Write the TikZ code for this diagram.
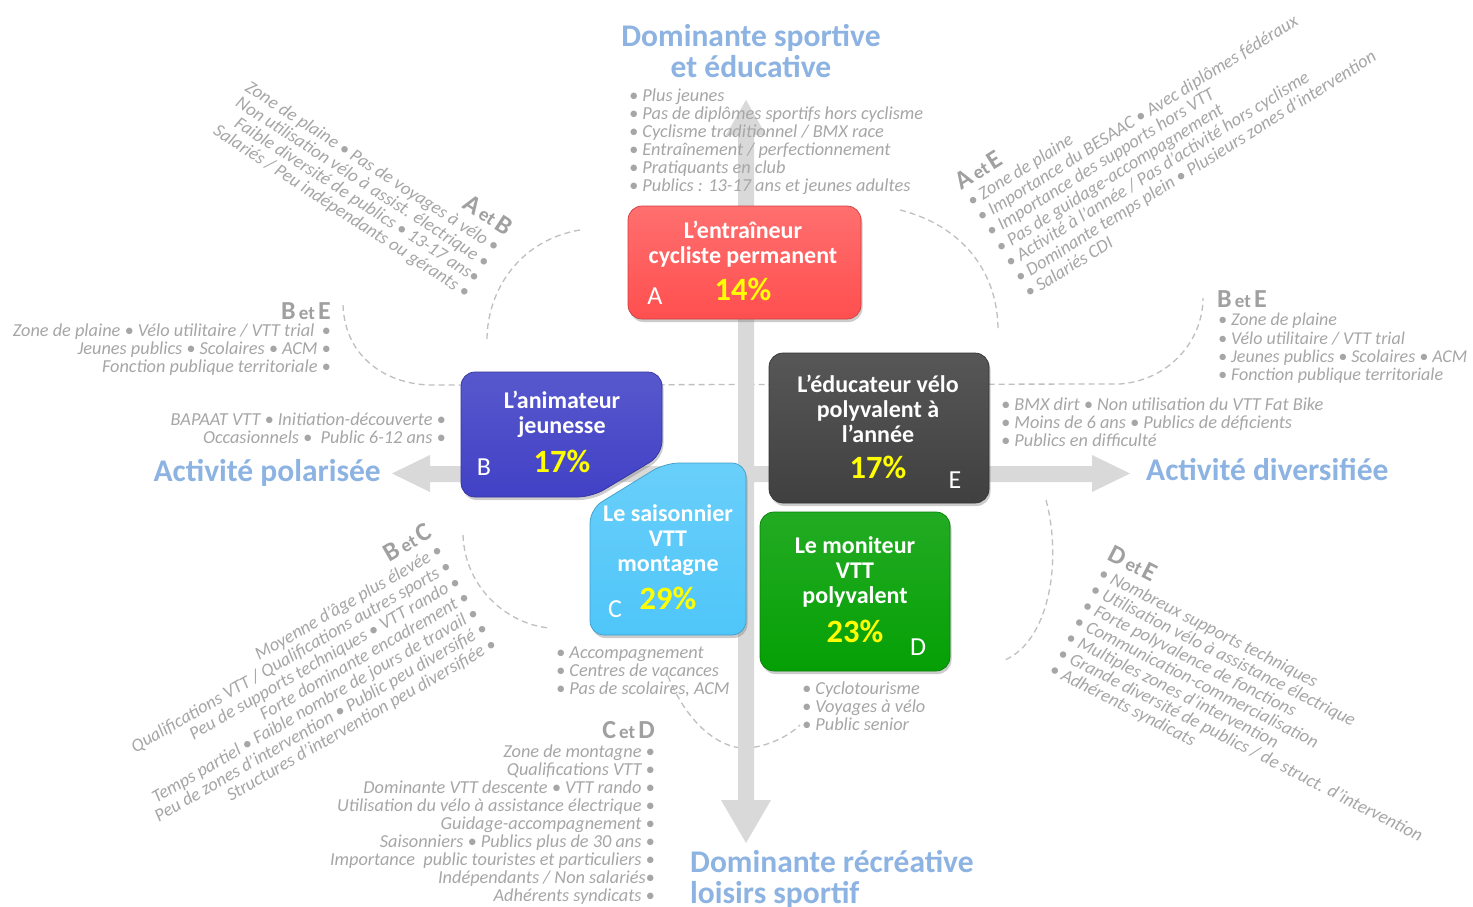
\documentclass[tikz,border=0pt]{standalone}
\usepackage{fontspec}
\setmainfont{Carlito}
\usetikzlibrary{shadows}
\definecolor{txtgray}{HTML}{A6A6A6}
\definecolor{hdrgray}{HTML}{A0A0A0}
\definecolor{titleblue}{HTML}{8DB3E2}
\definecolor{bargray}{HTML}{D9D9D9}
\definecolor{dashgray}{HTML}{BFBFBF}
\definecolor{cA}{HTML}{FF4F4F}
\definecolor{cB}{HTML}{4141C6}
\definecolor{cC}{HTML}{4FC6F9}
\definecolor{cD}{HTML}{05A005}
\definecolor{cE}{HTML}{404040}
\definecolor{pctyellow}{HTML}{FFFF00}
\newcommand\myhdr[2]{{\color{hdrgray}\upshape\bfseries\fontsize{26}{26}\selectfont #1\fontsize{19}{19}\selectfont\,et\,\fontsize{26}{26}\selectfont #2}}
\begin{document}
\begin{tikzpicture}[x=1pt,y=-1pt,
  lst/.style={font=\fontsize{18.3}{18}\selectfont\itshape, text=txtgray, inner sep=0pt},
  ttl/.style={font=\bfseries\fontsize{31.5}{31}\selectfont, text=titleblue, inner sep=0pt},
  dsh/.style={draw=dashgray, line width=1.3pt, dash pattern=on 6pt off 4pt},
  box/.style={rounded corners=14pt, line width=0.7pt, drop shadow={shadow xshift=1.5pt, shadow yshift=-3pt, opacity=0.4}},
  boxtxt/.style={text=white, font=\bfseries\fontsize{24}{25}\selectfont, align=center, inner sep=0pt},
  pct/.style={text=pctyellow, font=\bfseries\fontsize{32.5}{32}\selectfont, inner sep=0pt},
  ltr/.style={text=white, font=\fontsize{26}{26}\selectfont, inner sep=0pt}]
\useasboundingbox (0,0) rectangle (1473,907);
\fill[white] (0,0) rectangle (1473,907);

% dashed guide lines
\draw[dsh] (580,230) .. controls (520,240) and (487,290) .. (487,340);
\draw[dsh] (343,305) .. controls (345,360) and (390,385) .. (432,385) -- (1120,384) .. controls (1170,380) and (1203,340) .. (1203,298);
\draw[dsh] (900,210) .. controls (960,225) and (998,270) .. (998,330);
\draw[dsh] (463,535) .. controls (465,590) and (510,625) .. (550,628);
\draw[dsh] (668,676) .. controls (690,730) and (725,750) .. (748,748) .. controls (770,746) and (790,735) .. (800,725);
\draw[dsh] (1046,500) .. controls (1062,560) and (1050,640) .. (1005,660);

% axes
\fill[bargray] (738,135) -- (738,800) -- (721,800) -- (746,843) -- (771,800) -- (754,800) -- (754,135) -- (766,135) -- (746,100) -- (726,135) -- cycle;
\fill[bargray] (430,466) -- (1092,466) -- (1092,455) -- (1130,473.5) -- (1092,492) -- (1092,482) -- (430,482) -- (430,492) -- (392,473.5) -- (430,455) -- cycle;

% boxes
\node[box, draw=cA!80!black, top color=cA!82!white, bottom color=cA, minimum width=233pt, minimum height=113pt, inner sep=0pt] (boxA) at (744.5,262.5) {};
\node[box, draw=cE!80!black, top color=cE!88!white, bottom color=cE, minimum width=220pt, minimum height=150pt, inner sep=0pt] (boxE) at (879,428) {};
\node[box, draw=cD!80!black, top color=cD!88!white, bottom color=cD, minimum width=190pt, minimum height=159pt, inner sep=0pt] (boxD) at (855,591.5) {};
\path[box, draw=cB!80!black, top color=cB!88!white, bottom color=cB] (461,372) -- (662,372) -- (662,455) -- (592,497) -- (461,497) -- cycle;
\path[box, draw=cC!80!black, top color=cC!85!white, bottom color=cC] (665,463) -- (746,463) -- (746,635) -- (590,635) -- (590,509) -- cycle;

% box texts
\node[boxtxt] (tA) at (743,244) {L’entraîneur\\cycliste permanent};
\node[pct] (pA) at (743,289) {14\%};
\node[ltr] (lA) at (655,296) {A};
\node[boxtxt] (tB) at (562,414) {L’animateur\\jeunesse};
\node[pct] (pB) at (562,461) {17\%};
\node[ltr] (lB) at (484,467) {B};
\node[boxtxt] (tC) at (668,540) {Le saisonnier\\VTT\\montagne};
\node[pct] (pC) at (668,598) {29\%};
\node[ltr] (lC) at (615,609) {C};
\node[boxtxt] (tD) at (855,572) {Le moniteur\\VTT\\polyvalent};
\node[pct] (pD) at (855,631) {23\%};
\node[ltr] (lD) at (918,647) {D};
\node[boxtxt] (tE) at (878,409) {L’éducateur vélo\\polyvalent à\\l’année};
\node[pct] (pE) at (878,467) {17\%};
\node[ltr] (lE) at (955,480) {E};

% titles
\node[ttl, align=center] (tTop) at (751,51) {Dominante sportive\\et éducative};
\node[ttl, anchor=east] (tLeft) at (381,473) {Activité polarisée};
\node[ttl, anchor=west] (tRight) at (1146,470) {Activité diversifiée};
\node[ttl, align=left, anchor=north west] (tBot) at (690,850) {Dominante récréative\\loisirs sportif};

% straight lists
\node[lst, align=left, anchor=north west] (lTop) at (629,89) {• Plus jeunes\\• Pas de diplômes sportifs hors cyclisme\\• Cyclisme traditionnel / BMX race\\• Entraînement / perfectionnement\\• Pratiquants en club\\• Publics : 13-17 ans et jeunes adultes};
\node[inner sep=0pt, anchor=east] (hBEl) at (331,311) {\myhdr{B}{E}};
\node[lst, align=right, anchor=north east] (lBEl) at (331,324) {Zone de plaine • Vélo utilitaire / VTT trial \,•\\Jeunes publics • Scolaires • ACM •\\Fonction publique territoriale •};
\node[lst, align=right, anchor=north east] (lB) at (446,413) {BAPAAT VTT • Initiation-découverte •\\Occasionnels • \ Public 6-12 ans •};
\node[inner sep=0pt, anchor=west] (hBEr) at (1217,299) {\myhdr{B}{E}};
\node[lst, font=\fontsize{18}{18.3}\selectfont\itshape, align=left, anchor=north west] (lBEr) at (1218,313) {• Zone de plaine\\• Vélo utilitaire / VTT trial\\• Jeunes publics • Scolaires • ACM\\• Fonction publique territoriale};
\node[lst, align=left, anchor=north west] (lE) at (1001,398) {• BMX dirt • Non utilisation du VTT Fat Bike\\• Moins de 6 ans • Publics de déficients\\• Publics en difficulté};
\node[lst, align=left, anchor=north west] (lC) at (556,647) {• Accompagnement\\• Centres de vacances\\• Pas de scolaires, ACM};
\node[lst, align=left, anchor=north west] (lD) at (802,682) {• Cyclotourisme\\• Voyages à vélo\\• Public senior};
\node[inner sep=0pt, anchor=east] (hCD) at (655,730) {\myhdr{C}{D}};
\node[lst, align=right, anchor=north east] (lCD) at (655,745) {Zone de montagne •\\Qualifications VTT •\\Dominante VTT descente • VTT rando •\\Utilisation du vélo à assistance électrique •\\Guidage-accompagnement •\\Saisonniers • Publics plus de 30 ans •\\Importance \ public touristes et particuliers •\\Indépendants / Non salariés•\\Adhérents syndicats •};

% rotated lists
\node[lst, align=right, rotate=-33, anchor=north east] (lAB) at (515,222) {\myhdr{A}{B}\\[2pt]Zone de plaine • Pas de voyages à vélo •\\Non utilisation vélo à assist. électrique •\\Faible diversité de publics • 13-17 ans•\\Salariés / Peu indépendants ou gérants •};
\node[lst, align=left, rotate=32, anchor=north west] (lAE) at (952,176) {\myhdr{A}{E}\\[2pt]• Zone de plaine\\• Importance du BESAAC • Avec diplômes fédéraux\\• Importance des supports hors VTT\\• Pas de guidage-accompagnement\\• Activité à l’année / Pas d’activité hors cyclisme\\• Dominante temps plein • Plusieurs zones d’intervention\\• Salariés CDI};
\node[lst, align=right, rotate=30, anchor=north east] (lBC) at (425,522) {\myhdr{B}{C}\\[2pt]Moyenne d’âge plus élevée •\\Qualifications VTT / Qualifications autres sports •\\Peu de supports techniques • VTT rando •\\Forte dominante encadrement •\\Temps partiel • Faible nombre de jours de travail •\\Peu de zones d’intervention • Public peu diversifié •\\Structures d’intervention peu diversifiée •};
\node[lst, align=left, rotate=-27, anchor=north west] (lDE) at (1114,544) {\myhdr{D}{E}\\[2pt]• Nombreux supports techniques\\• Utilisation vélo à assistance électrique\\• Forte polyvalence de fonctions\\• Communication-commercialisation\\• Multiples zones d’intervention\\• Grande diversité de publics / de struct. d’intervention\\• Adhérents syndicats};
\end{tikzpicture}
\end{document}
